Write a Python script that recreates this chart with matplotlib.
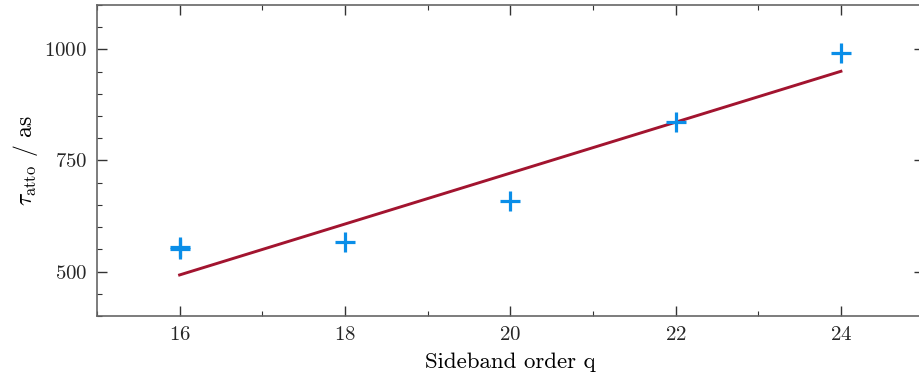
import numpy as np
import matplotlib
matplotlib.use("Agg")
import matplotlib.pyplot as plt

# sideband orders and measured attochirp delays
q = [16, 18, 20, 22, 24]
tau = [555, 566, 658, 836, 993]
# repeated measurement at q = 16
q_repeat = [16]
tau_repeat = [551]

xticks = [16, 18, 20, 22, 24]
yticks = [500, 750, 1000]

plt.rcParams['font.family'] = 'serif'
plt.rcParams['font.serif'] = ['cmr10']
plt.rcParams['mathtext.fontset'] = 'cm'
plt.rcParams['axes.formatter.use_mathtext'] = True
plt.rcParams['text.color'] = '#262626'

blue = '#0a8ee8'
red = '#a2142f'

fig = plt.figure(figsize=(9.19, 3.76), dpi=100)
ax = fig.add_axes([0.1055, 0.1596, 0.8995, 0.8271])

# linear fit through the main series
p = np.polyfit(q, tau, 1)
qfit = np.array([min(q), max(q)])
ax.plot(qfit, np.polyval(p, qfit), color=red, lw=2.1)

ax.plot(q, tau, ls='none', marker='+', ms=14, mew=2.3, color=blue)
ax.plot(q_repeat, tau_repeat, ls='none', marker='+', ms=14, mew=2.3, color=blue)

ax.set_xlim(15, 25)
ax.set_ylim(400, 1100)
ax.set_xticks(xticks)
ax.set_yticks(yticks)
ax.set_xticks(np.arange(15, 26, 1), minor=True)
ax.set_yticks(np.arange(400, 1101, 50), minor=True)

ax.tick_params(which='both', direction='in', top=True, right=True,
               color='#333333', labelcolor='#262626', labelsize=15, pad=7)
ax.tick_params(which='major', length=7, width=1)
ax.tick_params(which='minor', length=3.5, width=0.8)
for s in ax.spines.values():
    s.set_color('#666666')
    s.set_linewidth(1.2)

ax.set_xlabel('Sideband order q', fontsize=16.5, labelpad=6)
ax.set_ylabel(r'$\tau_{\mathrm{atto}}$ / as', fontsize=17, labelpad=3)

fig.savefig('out.png', dpi=100)
